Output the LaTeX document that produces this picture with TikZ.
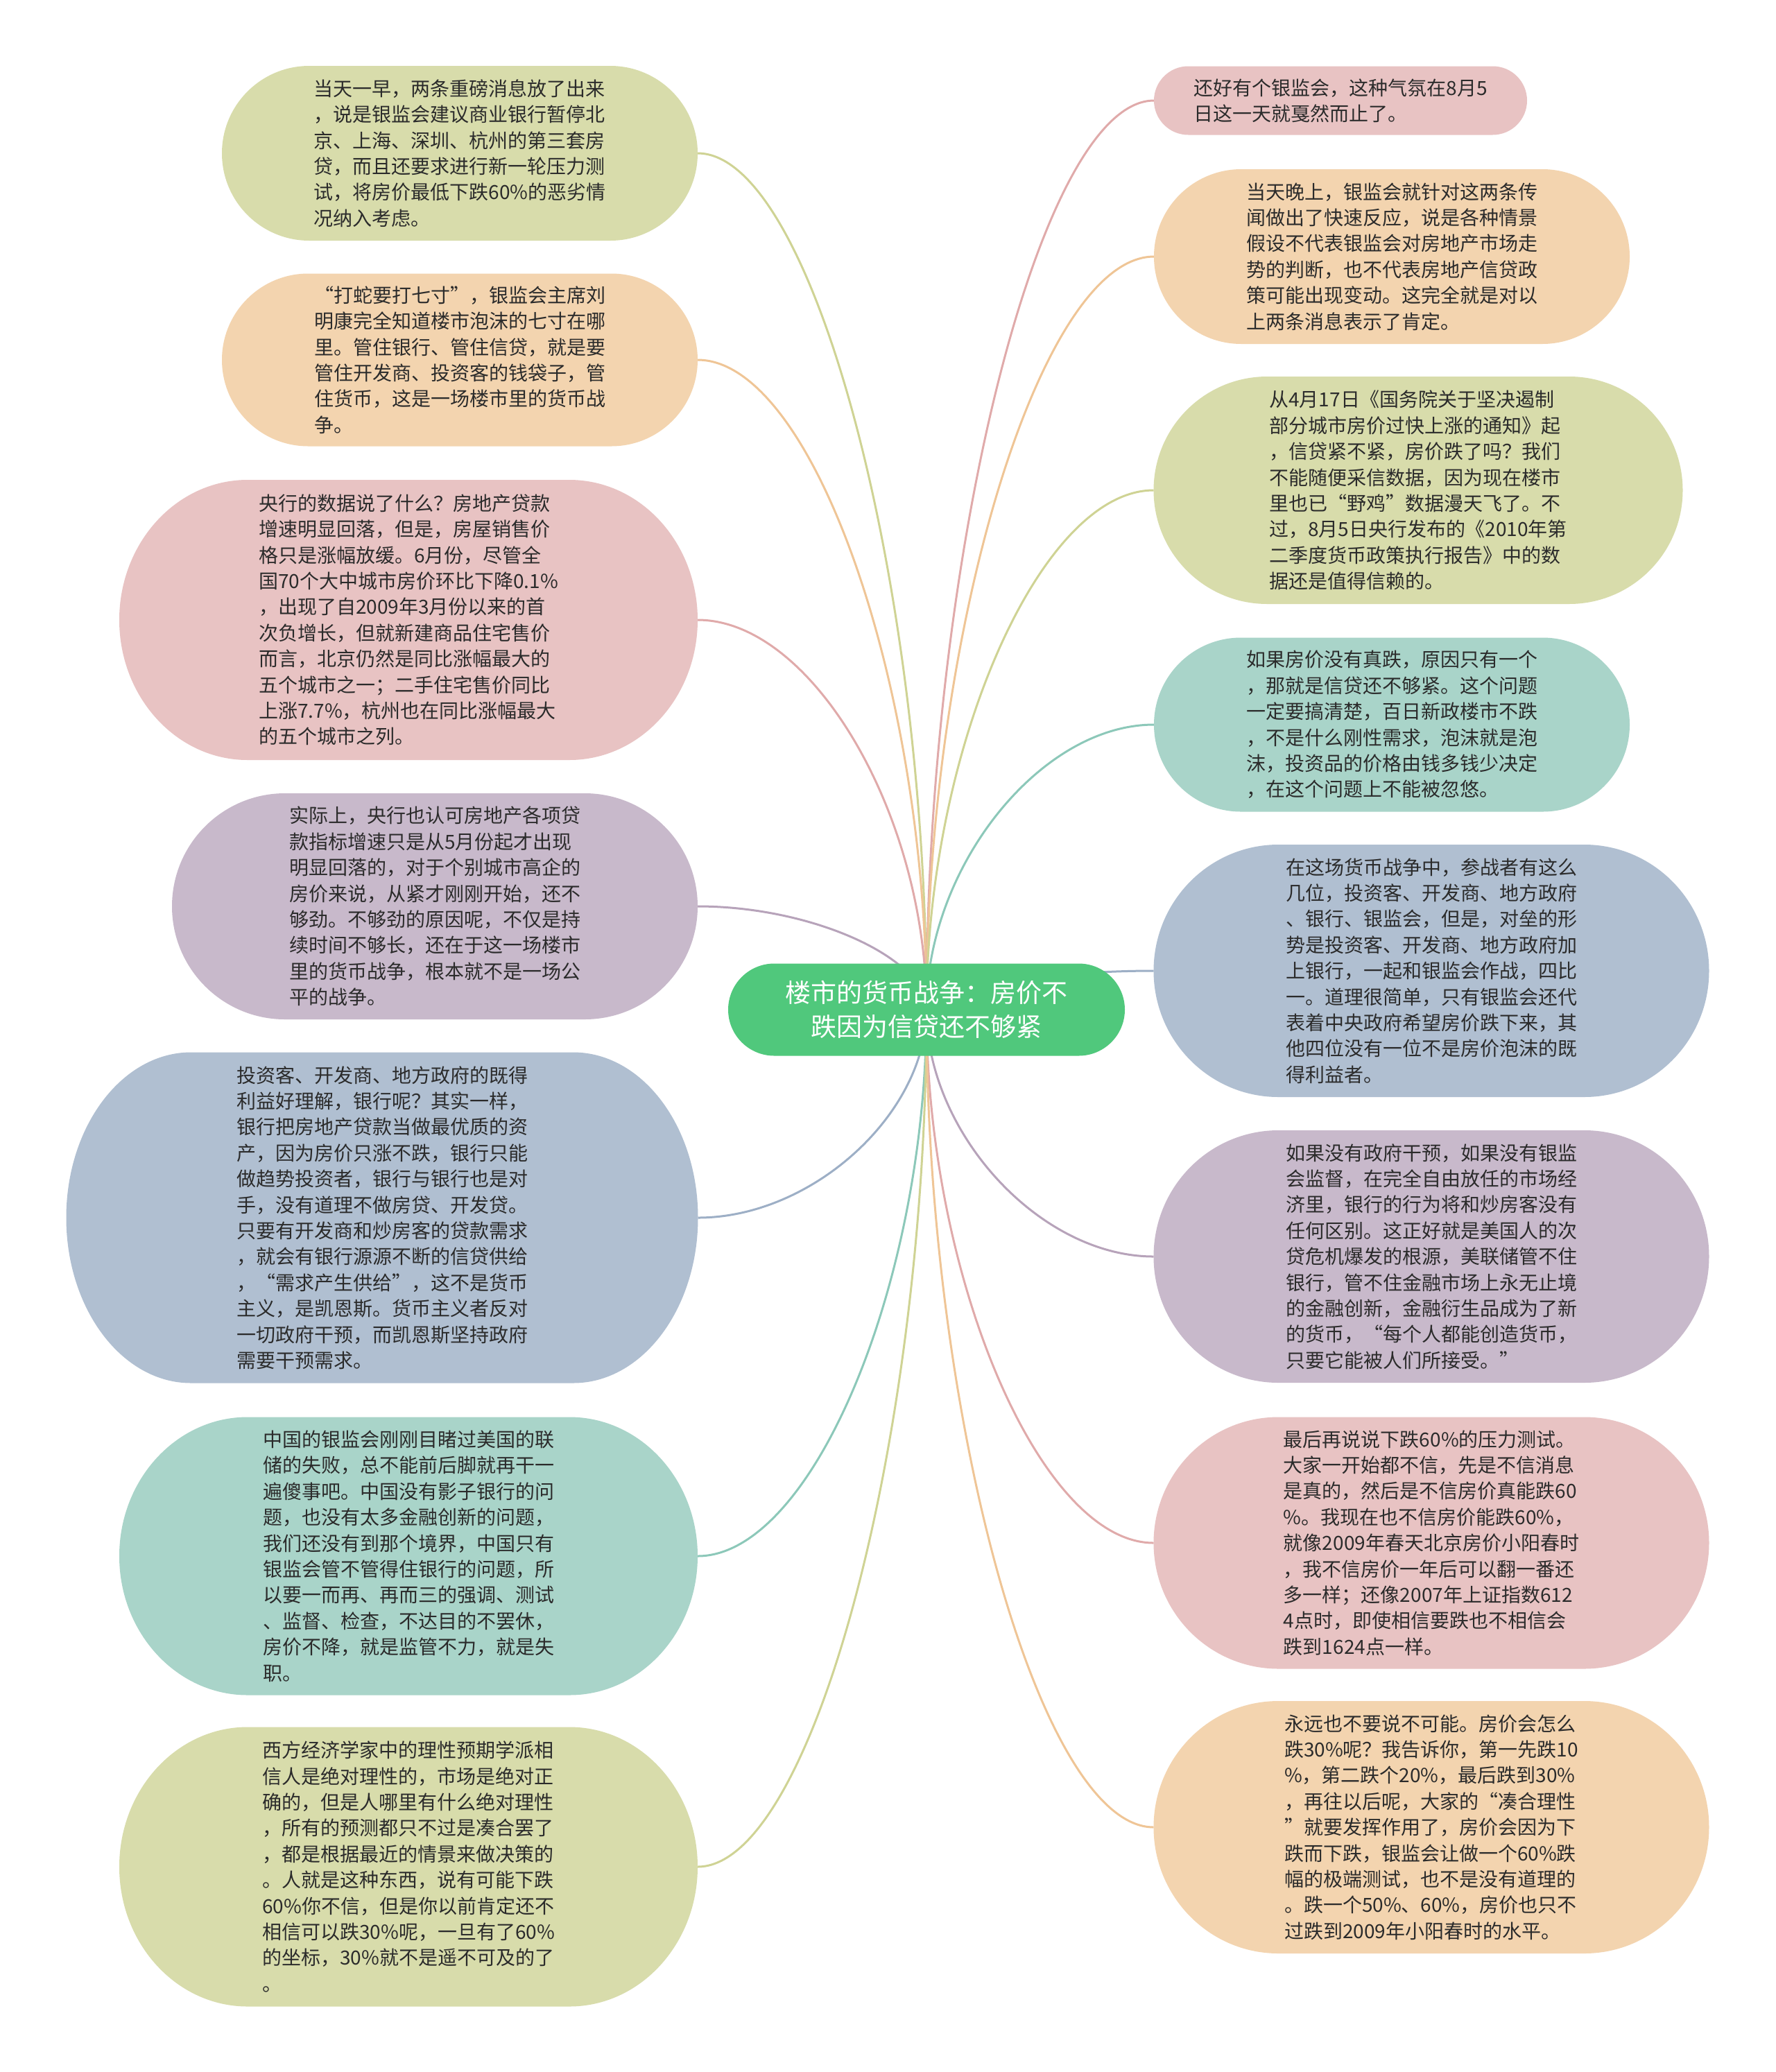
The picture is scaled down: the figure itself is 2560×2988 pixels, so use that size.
\documentclass[tikz,border=0pt]{standalone}
\usepackage{fontspec}
\setmainfont{Noto Sans CJK SC}
\usetikzlibrary{calc}
\pgfdeclarelayer{paper}
\pgfdeclarelayer{conn}
\pgfdeclarelayer{bg}
\pgfsetlayers{paper,conn,bg,main}
\definecolor{fyg}{HTML}{D8DCAB}
\definecolor{lyg}{HTML}{CFD394}
\definecolor{fpe}{HTML}{F3D4AF}
\definecolor{lpe}{HTML}{EFC596}
\definecolor{fpk}{HTML}{E8C3C3}
\definecolor{lpk}{HTML}{E0AAAA}
\definecolor{fli}{HTML}{C8B9CB}
\definecolor{lli}{HTML}{B7A3BA}
\definecolor{fbl}{HTML}{B0BFD1}
\definecolor{lbl}{HTML}{9DAFC6}
\definecolor{fte}{HTML}{A9D4C9}
\definecolor{lte}{HTML}{8CC8B9}
\definecolor{fce}{HTML}{50C87C}
\definecolor{txc}{HTML}{2B2B2B}
\newcommand{\bub}[4]{%
  \begin{pgfonlayer}{bg}
  \fill[#4] ([xshift=#2pt]#1.north west) -- ([xshift=-#2pt]#1.north east)
    arc[start angle=90,end angle=-90,x radius=#2pt,y radius=#3pt]
    -- ([xshift=#2pt]#1.south west)
    arc[start angle=270,end angle=90,x radius=#2pt,y radius=#3pt] -- cycle;
  \end{pgfonlayer}}
\newcommand{\lnk}[2]{%
  \coordinate (mid) at ($(C.center)!0.5!(#1)$);
  \begin{pgfonlayer}{conn}
  \draw[conn,#2] (C.center) .. controls (C.center |- mid)
    and (mid |- #1) .. (#1);
  \end{pgfonlayer}}
\begin{document}
\begin{tikzpicture}[x=1pt,y=-1pt,
  txt/.style={inner sep=0pt,outer sep=0pt,align=left,text=txc,
    font=\fontsize{28}{37.4}\selectfont},
  ctr/.style={inner sep=0pt,outer sep=0pt,align=center,text=white,
    font=\fontsize{37}{49.6}\selectfont},
  conn/.style={line width=3pt}]
\begin{pgfonlayer}{paper}
\fill[white] (0,0) rectangle (2560,2988);
\end{pgfonlayer}
\useasboundingbox (0,0) rectangle (2560,2988);

\node[ctr,minimum width=572pt,minimum height=133pt] (C) at (1336,1456)
  {楼市的货币战争：房价不\\跌因为信贷还不够紧};

\node[txt,minimum width=686pt,minimum height=252pt] (L1) at (663,221)
  {当天一早，两条重磅消息放了出来\\，说是银监会建议商业银行暂停北\\京、上海、深圳、杭州的第三套房\\贷，而且还要求进行新一轮压力测\\试，将房价最低下跌60\%的恶劣情\\况纳入考虑。};
\node[txt,minimum width=686pt,minimum height=249pt] (L2) at (663,519)
  {“打蛇要打七寸”，银监会主席刘\\明康完全知道楼市泡沫的七寸在哪\\里。管住银行、管住信贷，就是要\\管住开发商、投资客的钱袋子，管\\住货币，这是一场楼市里的货币战\\争。};
\node[txt,minimum width=834pt,minimum height=404pt] (L3) at (589,894)
  {央行的数据说了什么？房地产贷款\\增速明显回落，但是，房屋销售价\\格只是涨幅放缓。6月份，尽管全\\国70个大中城市房价环比下降0.1\%\\，出现了自2009年3月份以来的首\\次负增长，但就新建商品住宅售价\\而言，北京仍然是同比涨幅最大的\\五个城市之一；二手住宅售价同比\\上涨7.7\%，杭州也在同比涨幅最大\\的五个城市之列。};
\node[txt,minimum width=758pt,minimum height=326pt] (L4) at (627,1307)
  {实际上，央行也认可房地产各项贷\\款指标增速只是从5月份起才出现\\明显回落的，对于个别城市高企的\\房价来说，从紧才刚刚开始，还不\\够劲。不够劲的原因呢，不仅是持\\续时间不够长，还在于这一场楼市\\里的货币战争，根本就不是一场公\\平的战争。};
\node[txt,minimum width=911pt,minimum height=477pt] (L5) at (551,1756)
  {投资客、开发商、地方政府的既得\\利益好理解，银行呢？其实一样，\\银行把房地产贷款当做最优质的资\\产，因为房价只涨不跌，银行只能\\做趋势投资者，银行与银行也是对\\手，没有道理不做房贷、开发贷。\\只要有开发商和炒房客的贷款需求\\，就会有银行源源不断的信贷供给\\，“需求产生供给”，这不是货币\\主义，是凯恩斯。货币主义者反对\\一切政府干预，而凯恩斯坚持政府\\需要干预需求。};
\node[txt,minimum width=834pt,minimum height=401pt] (L6) at (589,2244)
  {中国的银监会刚刚目睹过美国的联\\储的失败，总不能前后脚就再干一\\遍傻事吧。中国没有影子银行的问\\题，也没有太多金融创新的问题，\\我们还没有到那个境界，中国只有\\银监会管不管得住银行的问题，所\\以要一而再、再而三的强调、测试\\、监督、检查，不达目的不罢休，\\房价不降，就是监管不力，就是失\\职。};
\node[txt,minimum width=834pt,minimum height=403pt] (L7) at (589,2692)
  {西方经济学家中的理性预期学派相\\信人是绝对理性的，市场是绝对正\\确的，但是人哪里有什么绝对理性\\，所有的预测都只不过是凑合罢了\\，都是根据最近的情景来做决策的\\。人就是这种东西，说有可能下跌\\60\%你不信，但是你以前肯定还不\\相信可以跌30\%呢，一旦有了60\%\\的坐标，30\%就不是遥不可及的了\\。};

\node[txt,minimum width=538pt,minimum height=99pt] (R1) at (1933,145)
  {还好有个银监会，这种气氛在8月5\\日这一天就戛然而止了。};
\node[txt,minimum width=686pt,minimum height=252pt] (R2) at (2007,370)
  {当天晚上，银监会就针对这两条传\\闻做出了快速反应，说是各种情景\\假设不代表银监会对房地产市场走\\势的判断，也不代表房地产信贷政\\策可能出现变动。这完全就是对以\\上两条消息表示了肯定。};
\node[txt,minimum width=763pt,minimum height=328pt] (R3) at (2045,707)
  {从4月17日《国务院关于坚决遏制\\部分城市房价过快上涨的通知》起\\，信贷紧不紧，房价跌了吗？我们\\不能随便采信数据，因为现在楼市\\里也已“野鸡”数据漫天飞了。不\\过，8月5日央行发布的《2010年第\\二季度货币政策执行报告》中的数\\据还是值得信赖的。};
\node[txt,minimum width=686pt,minimum height=251pt] (R4) at (2007,1045)
  {如果房价没有真跌，原因只有一个\\，那就是信贷还不够紧。这个问题\\一定要搞清楚，百日新政楼市不跌\\，不是什么刚性需求，泡沫就是泡\\沫，投资品的价格由钱多钱少决定\\，在这个问题上不能被忽悠。};
\node[txt,minimum width=801pt,minimum height=364pt] (R5) at (2064,1400)
  {在这场货币战争中，参战者有这么\\几位，投资客、开发商、地方政府\\、银行、银监会，但是，对垒的形\\势是投资客、开发商、地方政府加\\上银行，一起和银监会作战，四比\\一。道理很简单，只有银监会还代\\表着中央政府希望房价跌下来，其\\他四位没有一位不是房价泡沫的既\\得利益者。};
\node[txt,minimum width=801pt,minimum height=364pt] (R6) at (2064,1812)
  {如果没有政府干预，如果没有银监\\会监督，在完全自由放任的市场经\\济里，银行的行为将和炒房客没有\\任何区别。这正好就是美国人的次\\贷危机爆发的根源，美联储管不住\\银行，管不住金融市场上永无止境\\的金融创新，金融衍生品成为了新\\的货币，“每个人都能创造货币，\\只要它能被人们所接受。”};
\node[txt,minimum width=801pt,minimum height=363pt] (R7) at (2064,2225)
  {最后再说说下跌60\%的压力测试。\\大家一开始都不信，先是不信消息\\是真的，然后是不信房价真能跌60\\\%。我现在也不信房价能跌60\%，\\就像2009年春天北京房价小阳春时\\，我不信房价一年后可以翻一番还\\多一样；还像2007年上证指数612\\4点时，即使相信要跌也不相信会\\跌到1624点一样。};
\node[txt,minimum width=801pt,minimum height=364pt] (R8) at (2064,2635)
  {永远也不要说不可能。房价会怎么\\跌30\%呢？我告诉你，第一先跌10\\\%，第二跌个20\%，最后跌到30\%\\，再往以后呢，大家的“凑合理性\\”就要发挥作用了，房价会因为下\\跌而下跌，银监会让做一个60\%跌\\幅的极端测试，也不是没有道理的\\。跌一个50\%、60\%，房价也只不\\过跌到2009年小阳春时的水平。};

\bub{C}{66.5}{66.5}{fce}
\bub{L1}{126}{126}{fyg}
\bub{L2}{124.5}{124.5}{fpe}
\bub{L3}{185}{202}{fpk}
\bub{L4}{163}{163}{fli}
\bub{L5}{180}{238.5}{fbl}
\bub{L6}{185}{200.5}{fte}
\bub{L7}{185}{201.5}{fyg}
\bub{R1}{49.5}{49.5}{fpk}
\bub{R2}{126}{126}{fpe}
\bub{R3}{164}{164}{fyg}
\bub{R4}{125.5}{125.5}{fte}
\bub{R5}{180}{182}{fbl}
\bub{R6}{180}{182}{fli}
\bub{R7}{180}{181.5}{fpk}
\bub{R8}{180}{182}{fpe}

\lnk{L1.east}{lyg}
\lnk{L2.east}{lpe}
\lnk{L3.east}{lpk}
\lnk{L4.east}{lli}
\lnk{L5.east}{lbl}
\lnk{L6.east}{lte}
\lnk{L7.east}{lyg}
\lnk{R1.west}{lpk}
\lnk{R2.west}{lpe}
\lnk{R3.west}{lyg}
\lnk{R4.west}{lte}
\lnk{R5.west}{lbl}
\lnk{R6.west}{lli}
\lnk{R7.west}{lpk}
\lnk{R8.west}{lpe}
\end{tikzpicture}
\end{document}
